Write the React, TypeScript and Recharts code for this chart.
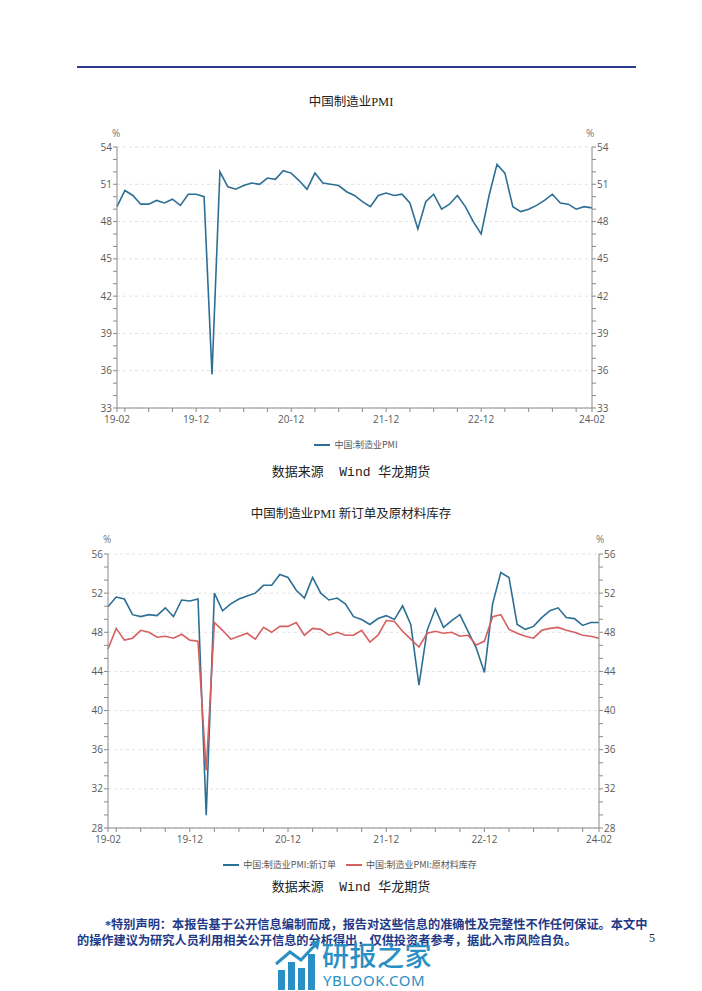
import React from 'react';
import { LineChart, Line, XAxis, YAxis, CartesianGrid } from 'recharts';

const months = [
  '19-02', '19-03', '19-04', '19-05', '19-06', '19-07', '19-08', '19-09', '19-10', '19-11', '19-12',
  '20-01', '20-02', '20-03', '20-04', '20-05', '20-06', '20-07', '20-08', '20-09', '20-10', '20-11', '20-12',
  '21-01', '21-02', '21-03', '21-04', '21-05', '21-06', '21-07', '21-08', '21-09', '21-10', '21-11', '21-12',
  '22-01', '22-02', '22-03', '22-04', '22-05', '22-06', '22-07', '22-08', '22-09', '22-10', '22-11', '22-12',
  '23-01', '23-02', '23-03', '23-04', '23-05', '23-06', '23-07', '23-08', '23-09', '23-10', '23-11', '23-12',
  '24-01', '24-02',
];

const pmi = [
  49.2, 50.5, 50.1, 49.4, 49.4, 49.7, 49.5, 49.8, 49.3, 50.2, 50.2,
  50.0, 35.7, 52.0, 50.8, 50.6, 50.9, 51.1, 51.0, 51.5, 51.4, 52.1, 51.9,
  51.3, 50.6, 51.9, 51.1, 51.0, 50.9, 50.4, 50.1, 49.6, 49.2, 50.1, 50.3,
  50.1, 50.2, 49.5, 47.4, 49.6, 50.2, 49.0, 49.4, 50.1, 49.2, 48.0, 47.0,
  50.1, 52.6, 51.9, 49.2, 48.8, 49.0, 49.3, 49.7, 50.2, 49.5, 49.4, 49.0,
  49.2, 49.1,
];

const newOrders = [
  50.6, 51.6, 51.4, 49.8, 49.6, 49.8, 49.7, 50.5, 49.6, 51.3, 51.2,
  51.4, 29.3, 52.0, 50.2, 50.9, 51.4, 51.7, 52.0, 52.8, 52.8, 53.9, 53.6,
  52.3, 51.5, 53.6, 52.0, 51.3, 51.5, 50.9, 49.6, 49.3, 48.8, 49.4, 49.7,
  49.3, 50.7, 48.8, 42.6, 48.2, 50.4, 48.5, 49.2, 49.8, 48.1, 46.4, 43.9,
  50.9, 54.1, 53.6, 48.8, 48.3, 48.6, 49.5, 50.2, 50.5, 49.5, 49.4, 48.7,
  49.0, 49.0,
];

const rawInventory = [
  46.3, 48.4, 47.2, 47.4, 48.2, 48.0, 47.5, 47.6, 47.4, 47.8, 47.2,
  47.1, 33.9, 49.0, 48.2, 47.3, 47.6, 47.9, 47.3, 48.5, 48.0, 48.6, 48.6,
  49.0, 47.7, 48.4, 48.3, 47.7, 48.0, 47.7, 47.7, 48.2, 47.0, 47.7, 49.2,
  49.1, 48.1, 47.3, 46.5, 47.9, 48.1, 47.9, 48.0, 47.6, 47.7, 46.7, 47.1,
  49.6, 49.8, 48.3, 47.9, 47.6, 47.4, 48.2, 48.4, 48.5, 48.2, 48.0, 47.7,
  47.6, 47.4,
];

const xTicks = [
  '19-02', '19-03', '19-06', '19-09', '19-12',
  '20-03', '20-06', '20-09', '20-12',
  '21-03', '21-06', '21-09', '21-12',
  '22-03', '22-06', '22-09', '22-12',
  '23-03', '23-06', '23-09', '23-12',
  '24-02',
];
const xLabels = ['19-02', '19-12', '20-12', '21-12', '22-12', '24-02'];

const pmiMajorTicks = [33, 36, 39, 42, 45, 48, 51, 54];
const subMajorTicks = [28, 32, 36, 40, 44, 48, 52, 56];

const pmiTitle = '中国制造业PMI';
const subTitle = '中国制造业PMI 新订单及原材料库存';
const pmiName = '中国:制造业PMI';
const newOrdersName = '中国:制造业PMI:新订单';
const rawInventoryName = '中国:制造业PMI:原材料库存';

const data1 = months.map((m, i) => ({ m, pmi: pmi[i] }));
const data2 = months.map((m, i) => ({ m, no: newOrders[i], ri: rawInventory[i] }));

function withMinor(major: number[], parts: number): number[] {
  const out: number[] = [];
  for (let i = 0; i < major.length - 1; i++) {
    for (let k = 0; k < parts; k++) {
      out.push(major[i] + ((major[i + 1] - major[i]) * k) / parts);
    }
  }
  out.push(major[major.length - 1]);
  return out;
}

const majorFmt = (majors: number[]) => (v: number) => {
  const m = majors.find((t) => Math.abs(t - v) < 1e-6);
  return m === undefined ? '' : String(m);
};
const xFmt = (v: string) => (xLabels.includes(v) ? v : '');

const BLUE = '#2d6f94';
const RED = '#d6605f';
const AXIS = '#8a8a8a';
const tickFont = { fill: '#5a5a5a', fontSize: 10, fontFamily: '"Open Sans", "Noto Sans", sans-serif' };
const serifCJK = '"Liberation Serif", "Noto Sans CJK SC", serif';

const abs = (left: number, top: number, extra: React.CSSProperties = {}): React.CSSProperties => ({
  position: 'absolute',
  left,
  top,
  ...extra,
});

function LegendItem({ color, label }: { color: string; label: string }) {
  return (
    <span style={{ display: 'inline-flex', alignItems: 'center', marginRight: 10 }}>
      <span style={{ display: 'inline-block', width: 16, height: 2, background: color, marginRight: 4 }} />
      <span style={{ fontSize: 9, color: '#555', fontFamily: '"Noto Sans CJK SC", sans-serif' }}>{label}</span>
    </span>
  );
}

export default function App() {
  const pmiTicks = withMinor(pmiMajorTicks, 3);
  const subTicks = withMinor(subMajorTicks, 3);
  return (
    <div style={{ position: 'absolute', left: 0, top: 0, width: 702, height: 991, background: '#fff', overflow: 'hidden' }}>
      {/* header rule */}
      <div style={abs(77, 66, { width: 559, height: 1.5, background: '#2c3a8c' })} />

      {/* chart 1 */}
      <div style={abs(0, 91, { width: 702, textAlign: 'center', fontSize: 12.5, fontFamily: serifCJK, color: '#222' })}>
        {pmiTitle}
      </div>
      <div style={abs(112, 126, { fontSize: 10, color: '#777', fontFamily: '"Open Sans", sans-serif' })}>%</div>
      <div style={abs(586, 126, { fontSize: 10, color: '#777', fontFamily: '"Open Sans", sans-serif' })}>%</div>
      <div style={abs(0, 110)}>
        <LineChart width={702} height={330} data={data1} margin={{ top: 37, right: 0, bottom: 2, left: 0 }}>
          <CartesianGrid yAxisId="l" horizontalValues={pmiMajorTicks} vertical={false} stroke="#e2e2e2" strokeDasharray="3 3" />
          <XAxis
            dataKey="m"
            scale="point"
            padding={{ left: 0, right: 0 }}
            ticks={xTicks}
            interval={0}
            tickFormatter={xFmt}
            height={30}
            tickSize={4}
            tickMargin={4}
            stroke={AXIS}
            tick={tickFont}
          />
          <YAxis
            yAxisId="l"
            type="number"
            domain={[33, 54]}
            ticks={pmiTicks}
            interval={0}
            tickFormatter={majorFmt(pmiMajorTicks)}
            width={117}
            tickSize={4}
            tickMargin={1}
            stroke={AXIS}
            tick={tickFont}
            allowDataOverflow
          />
          <YAxis
            yAxisId="r"
            orientation="right"
            type="number"
            domain={[33, 54]}
            ticks={pmiTicks}
            interval={0}
            tickFormatter={majorFmt(pmiMajorTicks)}
            width={110}
            tickSize={4}
            tickMargin={1}
            stroke={AXIS}
            tick={tickFont}
            allowDataOverflow
          />
          <Line yAxisId="l" dataKey="pmi" name={pmiName} stroke={BLUE} strokeWidth={1.6} dot={false} isAnimationActive={false} />
        </LineChart>
      </div>
      <div style={abs(0, 438, { width: 702, display: 'flex', justifyContent: 'center', paddingLeft: 10 })}>
        <LegendItem color={BLUE} label={pmiName} />
      </div>
      <div style={abs(0, 461, { width: 702, textAlign: 'center', fontSize: 13, color: '#222', fontFamily: '"Liberation Mono", "Noto Sans CJK SC", monospace', whiteSpace: 'pre' })}>
        {'数据来源  Wind 华龙期货'}
      </div>

      {/* chart 2 */}
      <div style={abs(0, 503, { width: 702, textAlign: 'center', fontSize: 12.5, fontFamily: serifCJK, color: '#222' })}>
        {subTitle}
      </div>
      <div style={abs(103, 532, { fontSize: 10, color: '#777', fontFamily: '"Open Sans", sans-serif' })}>%</div>
      <div style={abs(596, 532, { fontSize: 10, color: '#777', fontFamily: '"Open Sans", sans-serif' })}>%</div>
      <div style={abs(0, 520)}>
        <LineChart width={702} height={360} data={data2} margin={{ top: 34, right: 0, bottom: 22, left: 0 }}>
          <CartesianGrid yAxisId="l" horizontalValues={subMajorTicks} vertical={false} stroke="#e2e2e2" strokeDasharray="3 3" />
          <XAxis
            dataKey="m"
            scale="point"
            padding={{ left: 0, right: 0 }}
            ticks={xTicks}
            interval={0}
            tickFormatter={xFmt}
            height={30}
            tickSize={4}
            tickMargin={4}
            stroke={AXIS}
            tick={tickFont}
          />
          <YAxis
            yAxisId="l"
            type="number"
            domain={[28, 56]}
            ticks={subTicks}
            interval={0}
            tickFormatter={majorFmt(subMajorTicks)}
            width={108}
            tickSize={4}
            tickMargin={1}
            stroke={AXIS}
            tick={tickFont}
            allowDataOverflow
          />
          <YAxis
            yAxisId="r"
            orientation="right"
            type="number"
            domain={[28, 56]}
            ticks={subTicks}
            interval={0}
            tickFormatter={majorFmt(subMajorTicks)}
            width={103}
            tickSize={4}
            tickMargin={1}
            stroke={AXIS}
            tick={tickFont}
            allowDataOverflow
          />
          <Line yAxisId="l" dataKey="no" name={newOrdersName} stroke={BLUE} strokeWidth={1.6} dot={false} isAnimationActive={false} />
          <Line yAxisId="l" dataKey="ri" name={rawInventoryName} stroke={RED} strokeWidth={1.6} dot={false} isAnimationActive={false} />
        </LineChart>
      </div>
      <div style={abs(0, 858, { width: 702, display: 'flex', justifyContent: 'center', paddingLeft: 4 })}>
        <LegendItem color={BLUE} label={newOrdersName} />
        <LegendItem color={RED} label={rawInventoryName} />
      </div>
      <div style={abs(0, 876, { width: 702, textAlign: 'center', fontSize: 13, color: '#222', fontFamily: '"Liberation Mono", "Noto Sans CJK SC", monospace', whiteSpace: 'pre' })}>
        {'数据来源  Wind 华龙期货'}
      </div>

      {/* footer disclaimer */}
      <div style={abs(105, 915, { fontSize: 12.2, fontWeight: 700, color: '#1f3a86', fontFamily: serifCJK, whiteSpace: 'nowrap' })}>
        *特别声明：本报告基于公开信息编制而成，报告对这些信息的准确性及完整性不作任何保证。本文中
      </div>
      <div style={abs(77, 931, { fontSize: 12.2, fontWeight: 700, color: '#1f3a86', fontFamily: serifCJK, whiteSpace: 'nowrap' })}>
        的操作建议为研究人员利用相关公开信息的分析得出，仅供投资者参考，据此入市风险自负。
      </div>
      <div style={abs(649, 931, { fontSize: 12, color: '#222', fontFamily: serifCJK })}>5</div>

      {/* watermark */}
      <svg style={abs(274, 940)} width={48} height={50}>
        <rect x={4} y={30} width={7} height={20} fill="#2a8fc4" />
        <rect x={14} y={22} width={7} height={28} fill="#2a8fc4" />
        <rect x={24} y={28} width={7} height={22} fill="#2a8fc4" />
        <rect x={34} y={14} width={7} height={36} fill="#2a8fc4" />
        <polyline points="2,24 16,12 27,20 42,4" fill="none" stroke="#2a8fc4" strokeWidth={3} />
        <polygon points="36,2 46,0 44,10" fill="#2a8fc4" />
      </svg>
      <div style={abs(322, 939, { fontSize: 27, color: '#2a8fc4', fontFamily: '"Noto Sans CJK SC", sans-serif', fontWeight: 500, lineHeight: '32px', letterSpacing: 0.5 })}>
        研报之家
      </div>
      <div style={abs(323, 970, { fontSize: 15, color: '#2a8fc4', fontFamily: '"Noto Sans", sans-serif', letterSpacing: 0.6, lineHeight: '20px' })}>
        YBLOOK.COM
      </div>
    </div>
  );
}
